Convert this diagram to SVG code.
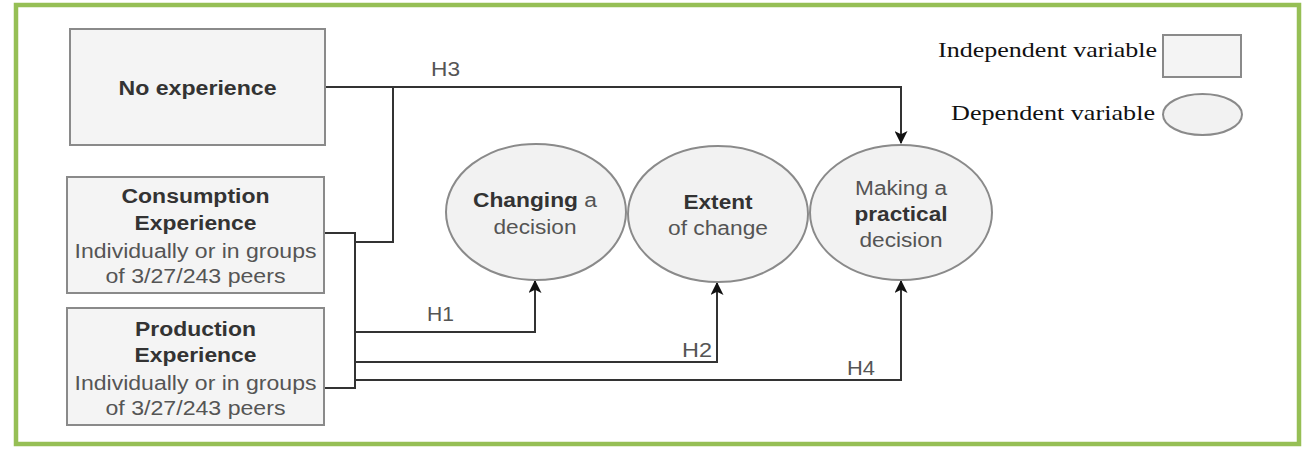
<svg xmlns="http://www.w3.org/2000/svg" width="1306" height="452" viewBox="0 0 1306 452">
<style>
.frame{fill:#ffffff;stroke:#96bf55;stroke-width:4.5}
.box{fill:#f4f4f4;stroke:#8a8a8a;stroke-width:2}
.ell{fill:#f2f2f2;stroke:#8a8a8a;stroke-width:2}
.t{font-family:"Liberation Sans",Arial,sans-serif;font-size:20px;fill:#555555;text-anchor:middle}
.b{font-weight:bold;fill:#333333}
.lg{font-family:"Liberation Serif","Times New Roman",serif;font-size:22px;fill:#111111}
.h{font-family:"Liberation Sans",Arial,sans-serif;font-size:20px;fill:#555555}
.c{fill:none;stroke:#333333;stroke-width:2}
.ca{fill:none;stroke:#333333;stroke-width:2;marker-end:url(#arr)}
</style>
<defs>
<marker id="arr" viewBox="0 0 12 12" refX="11" refY="6" markerWidth="13" markerHeight="13" orient="auto" markerUnits="userSpaceOnUse">
<path d="M0,0 L12,6 L0,12 L3,6 z" fill="#111111"/>
</marker>
</defs>
<rect class="frame" x="16" y="5" width="1283" height="439"/>

<g id="connectors">
<polyline class="ca" points="325,87 901,87 901,143"/>
<polyline class="c" points="393,87 393,242 355,242"/>
<line class="c" x1="324" y1="233" x2="355" y2="233"/>
<line class="c" x1="355" y1="232" x2="355" y2="389"/>
<line class="c" x1="324" y1="388" x2="355" y2="388"/>
<polyline class="ca" points="355,332 535,332 535,281"/>
<polyline class="ca" points="355,362 717,362 717,283"/>
<polyline class="ca" points="355,380 901,380 901,281"/>
<text class="h" x="431" y="76" textLength="29" lengthAdjust="spacingAndGlyphs">H3</text>
<text class="h" x="427" y="321" textLength="27" lengthAdjust="spacingAndGlyphs">H1</text>
<text class="h" x="682" y="357" textLength="30" lengthAdjust="spacingAndGlyphs">H2</text>
<text class="h" x="847" y="375" textLength="28" lengthAdjust="spacingAndGlyphs">H4</text>
</g>

<g id="no-experience">
<rect class="box" x="70" y="29" width="255" height="116"/>
<text class="t b" x="197.5" y="95" textLength="158" lengthAdjust="spacingAndGlyphs">No experience</text>
</g>

<g id="consumption">
<rect class="box" x="67" y="177" width="257" height="116"/>
<text class="t b" x="195.5" y="203" textLength="148" lengthAdjust="spacingAndGlyphs">Consumption</text>
<text class="t b" x="195.5" y="230" textLength="122" lengthAdjust="spacingAndGlyphs">Experience</text>
<text class="t" x="195.5" y="258" textLength="242" lengthAdjust="spacingAndGlyphs">Individually or in groups</text>
<text class="t" x="195.5" y="283" textLength="180" lengthAdjust="spacingAndGlyphs">of 3/27/243 peers</text>
</g>

<g id="production">
<rect class="box" x="67" y="308" width="257" height="117"/>
<text class="t b" x="195.5" y="336" textLength="121" lengthAdjust="spacingAndGlyphs">Production</text>
<text class="t b" x="195.5" y="362" textLength="122" lengthAdjust="spacingAndGlyphs">Experience</text>
<text class="t" x="195.5" y="390" textLength="242" lengthAdjust="spacingAndGlyphs">Individually or in groups</text>
<text class="t" x="195.5" y="415" textLength="180" lengthAdjust="spacingAndGlyphs">of 3/27/243 peers</text>
</g>

<g id="changing">
<ellipse class="ell" cx="536" cy="212" rx="90" ry="68"/>
<text class="t" x="535" y="207" textLength="124" lengthAdjust="spacingAndGlyphs"><tspan class="b">Changing</tspan> a</text>
<text class="t" x="535" y="234" textLength="83" lengthAdjust="spacingAndGlyphs">decision</text>
</g>

<g id="extent">
<ellipse class="ell" cx="718" cy="214" rx="90" ry="68"/>
<text class="t b" x="718" y="209" textLength="69" lengthAdjust="spacingAndGlyphs">Extent</text>
<text class="t" x="718" y="235" textLength="100" lengthAdjust="spacingAndGlyphs">of change</text>
</g>

<g id="practical">
<ellipse class="ell" cx="901" cy="212.5" rx="91" ry="67.5"/>
<text class="t" x="901" y="195" textLength="92" lengthAdjust="spacingAndGlyphs">Making a</text>
<text class="t b" x="901" y="221" textLength="93" lengthAdjust="spacingAndGlyphs">practical</text>
<text class="t" x="901" y="247" textLength="83" lengthAdjust="spacingAndGlyphs">decision</text>
</g>

<g id="legend-independent">
<text class="lg" x="938" y="57" textLength="219" lengthAdjust="spacingAndGlyphs">Independent variable</text>
<rect class="box" x="1163" y="35" width="78" height="42"/>
</g>

<g id="legend-dependent">
<text class="lg" x="951" y="120" textLength="204" lengthAdjust="spacingAndGlyphs">Dependent variable</text>
<ellipse class="ell" cx="1202.5" cy="114.5" rx="39.5" ry="20.5"/>
</g>
</svg>
